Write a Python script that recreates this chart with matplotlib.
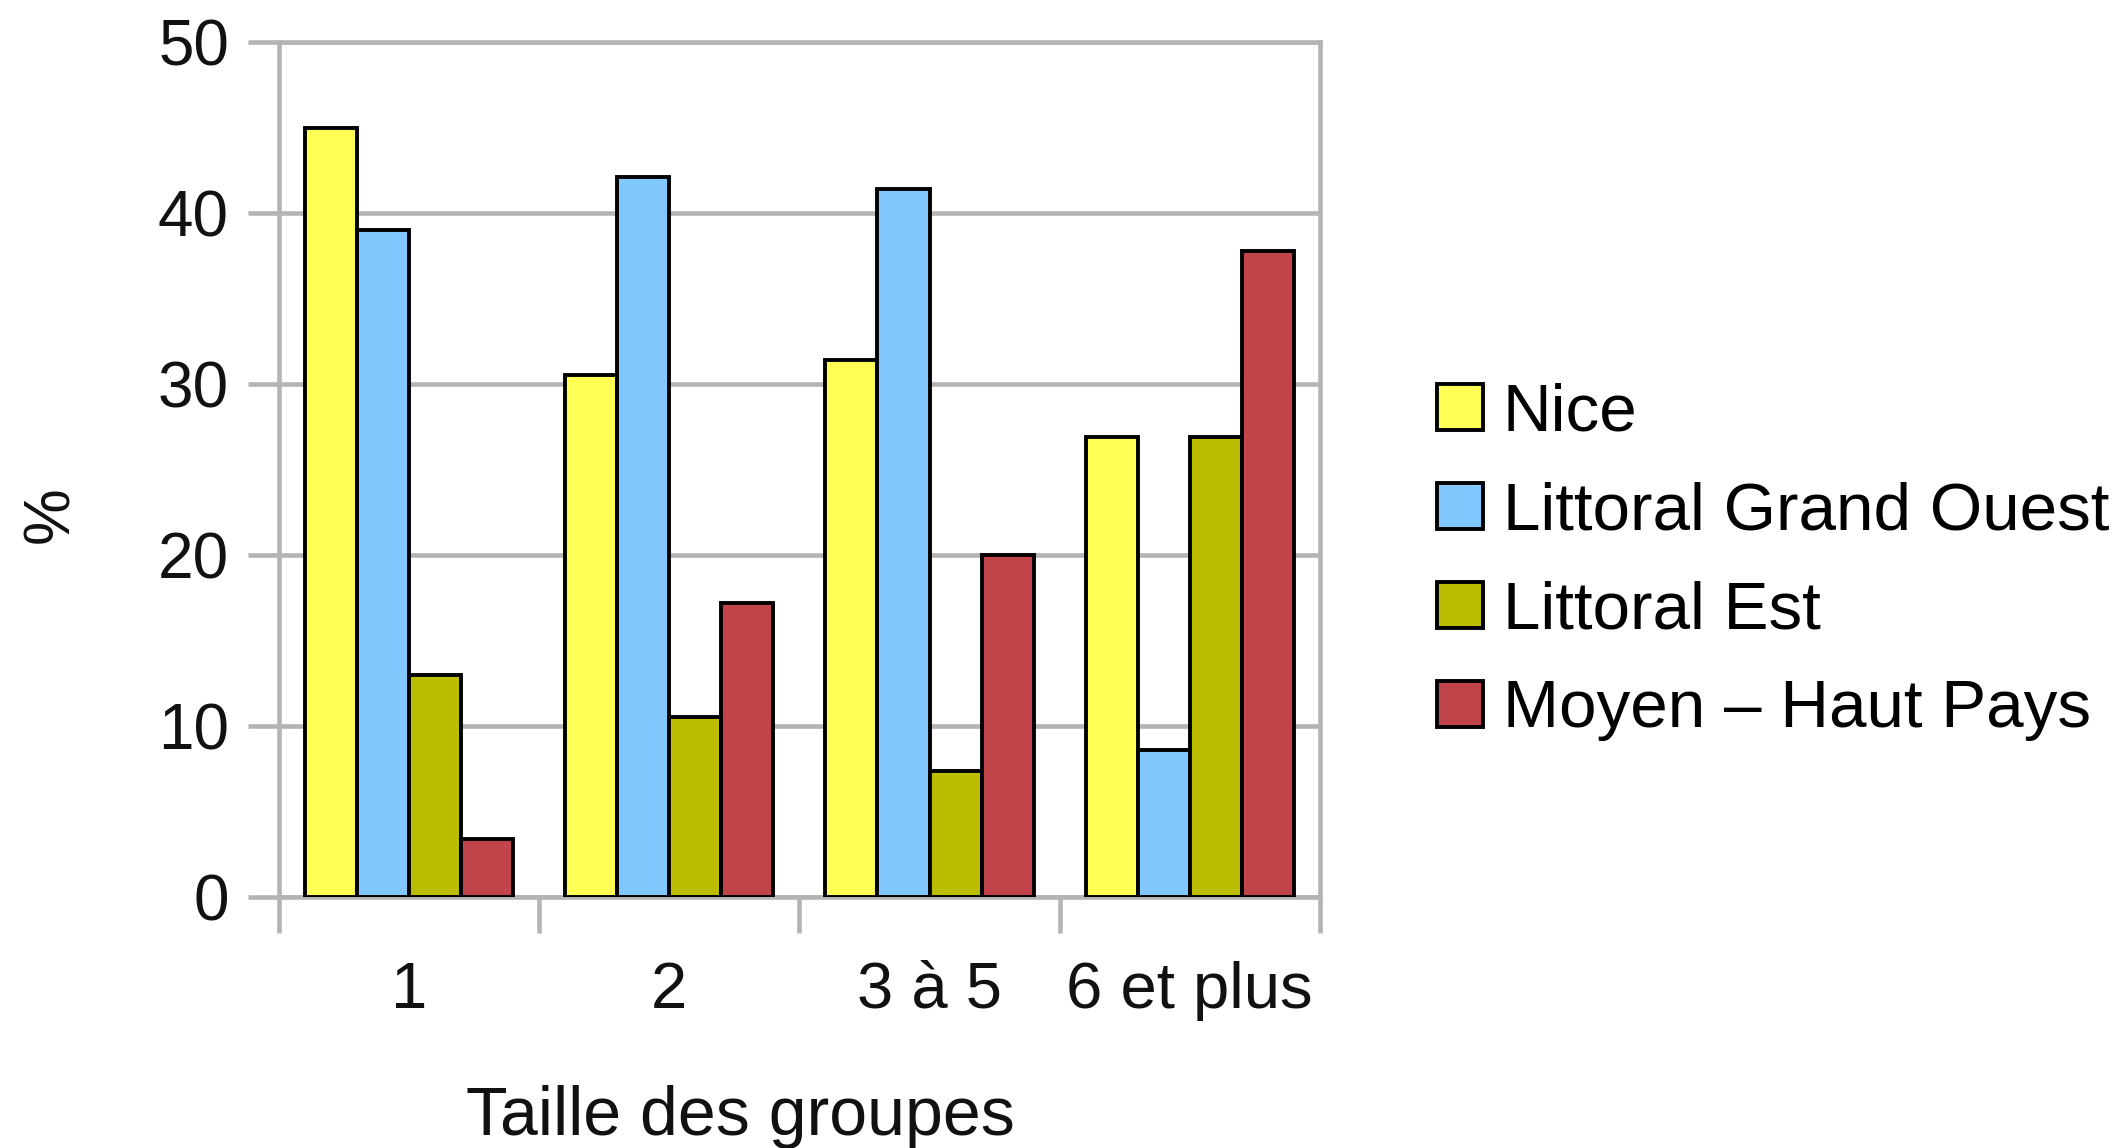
import matplotlib
matplotlib.use("Agg")
import matplotlib.pyplot as plt
import numpy as np

plt.rcParams['font.family'] = ['Liberation Sans', 'DejaVu Sans']

# Répartition (%) par taille de groupe et par secteur
categories = ["1", "2", "3 à 5", "6 et plus"]
series_names = ["Nice", "Littoral Grand Ouest", "Littoral Est", "Moyen – Haut Pays"]
nice = [45.0, 30.5, 31.4, 26.9]
littoral_grand_ouest = [39.0, 42.1, 41.4, 8.6]
littoral_est = [13.0, 10.5, 7.4, 26.9]
moyen_haut_pays = [3.4, 17.2, 20.0, 37.8]
y_ticks = [0, 10, 20, 30, 40, 50]

values = [nice, littoral_grand_ouest, littoral_est, moyen_haut_pays]
colors = ["#ffff55", "#80c8ff", "#bdbd00", "#c0444a"]

grid_gray = "#b4b4b4"
fs = 46

fig = plt.figure(figsize=(21.21, 11.48), dpi=100)
ax = fig.add_axes([0.1315, 0.2186, 0.4908, 0.7448])

x = np.arange(len(categories))
bar_w = 0.2
offsets = (np.arange(len(values)) - 1.5) * bar_w
for vals, off, col, name in zip(values, offsets, colors, series_names):
    ax.bar(x + off, vals, width=bar_w, color=col, edgecolor="black",
           linewidth=2.8, label=name, zorder=3)

ax.set_xlim(-0.5, len(categories) - 0.5)
ax.set_ylim(0, 50)
ax.set_yticks(y_ticks)
ax.set_yticklabels([str(v) for v in y_ticks])
ax.yaxis.grid(True, color=grid_gray, linewidth=3.3, zorder=0)
ax.set_axisbelow(True)

for side in ["left", "right", "top", "bottom"]:
    ax.spines[side].set_color(grid_gray)
    ax.spines[side].set_linewidth(3.3)

ax.set_xticks(x)
ax.set_xticklabels(categories)
ax.set_xticks(np.arange(len(categories) + 1) - 0.5, minor=True)
ax.tick_params(axis="x", which="major", length=0, pad=46, labelsize=47,
               labelcolor="#111111")
ax.tick_params(axis="x", which="minor", length=26, width=3.3, color=grid_gray)
ax.tick_params(axis="y", which="major", length=22, width=3.3, color=grid_gray,
               pad=14, labelsize=fs, labelcolor="#111111")

fig.text(0.349, 0.027, "Taille des groupes", fontsize=49, ha="center",
         va="center", color="#111111")
fig.text(0.024, 0.552, "%", fontsize=46, rotation=90, ha="center",
         va="center", color="#111111")

fig.legend(loc="upper left", bbox_to_anchor=(0.6775, 0.667), frameon=False,
           fontsize=48.5, handlelength=0.68, handleheight=0.68,
           handletextpad=0.3, labelspacing=0.55, borderpad=0,
           borderaxespad=0)

fig.savefig("out.png", dpi=100, facecolor="white")
